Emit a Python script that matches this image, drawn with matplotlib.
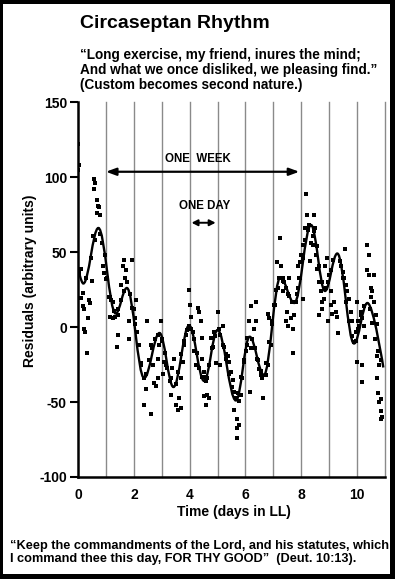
import matplotlib
matplotlib.use("Agg")
import matplotlib.pyplot as plt
from matplotlib.patches import Rectangle, PathPatch
from matplotlib.path import Path

plt.rcParams["font.family"] = ["Liberation Sans", "DejaVu Sans"]
plt.rcParams["font.weight"] = "bold"
plt.rcParams["axes.unicode_minus"] = False

# smoothed curve: peaks and troughs (day, residual)
curve_days = [0.0, 0.19, 0.73, 1.35, 1.75, 2.37, 2.92, 3.42, 3.98, 4.52, 5.0,
              5.66, 6.15, 6.66, 7.25, 7.75, 8.35, 8.85, 9.29, 9.89, 10.37, 10.94]
curve_vals = [39, 29, 66, 9, 26, -34, -4, -40, 1, -36, -2,
              -49, -6.5, -32, 33, 16, 68, 24, 49, -11, 16, -27]

# raw residuals (dots)
dot_days = [
    0.0, 0.03, 0.0, 0.1, 0.17, 0.1, 0.19, 0.23, 0.38, 0.43, 0.35, 0.23, 0.26, 0.31,
    0.5, 0.52, 0.58, 0.62, 0.58, 0.67, 0.7, 0.76, 0.79, 0.67, 0.86, 0.88, 0.94,
    1.02, 1.12, 1.18, 1.24, 1.14, 1.26, 1.33, 1.45, 1.42, 1.38, 1.54, 1.6, 1.66,
    1.69, 1.77, 1.71, 1.95, 1.81, 1.83, 2.0, 2.07, 2.05, 2.13, 2.19, 2.25, 2.37,
    2.43, 2.37, 2.6, 2.48, 2.6, 2.67, 2.74, 2.8, 2.85, 2.85, 2.9, 2.96, 3.02,
    3.08, 3.14, 3.05, 3.32, 3.38, 3.44, 3.32, 3.5, 3.6,
    3.63, 3.69, 3.69, 3.75, 3.81, 3.87, 3.99, 4.02, 4.05, 3.99, 4.11, 4.17, 4.23,
    4.29, 4.35, 4.4, 4.43, 4.46, 4.52, 4.58, 4.52, 4.64, 4.7, 4.58, 4.64, 4.76,
    4.82, 4.88, 5.0, 5.06, 4.94, 5.1, 5.18, 5.24, 5.3, 5.36, 5.42, 5.48, 5.54,
    5.6, 5.65, 5.6, 5.71, 5.69, 5.77, 5.71, 5.77, 5.83, 5.89, 5.95, 6.01, 6.07,
    6.13, 6.19, 6.17, 6.21, 6.31, 6.37, 6.37, 6.43, 6.49, 6.55, 6.61, 6.64, 6.73,
    6.79, 6.85, 6.8, 6.9, 6.96, 7.02, 7.08, 7.12, 7.2, 7.24,
    7.27, 7.33, 7.39, 7.45, 7.33, 7.51, 7.57, 7.48, 7.45, 7.51, 7.63, 7.69, 7.75,
    7.71, 7.81, 7.87, 7.93, 7.9, 7.95, 7.99, 8.05, 8.07, 8.14, 8.17, 8.19, 8.23,
    8.29, 8.31, 8.35, 8.41, 8.46, 8.5, 8.43, 8.52, 8.58, 8.64, 8.7, 8.62, 8.73,
    8.76, 8.82, 8.88, 8.86, 8.93, 8.99, 8.97, 9.05, 9.08, 9.1, 9.17, 9.23, 9.29,
    9.33, 9.42, 9.48, 9.54, 9.57, 9.6, 9.65, 9.71, 9.77, 9.83, 9.89, 9.95, 10.01,
    10.05, 10.07, 10.13, 10.19, 10.25, 10.28, 10.01, 10.16, 10.19, 10.37, 10.43,
    10.37, 10.43, 10.61, 10.49, 10.55, 10.49, 10.61, 10.67, 10.73, 10.73, 10.79,
    10.73, 10.76, 10.85, 10.79, 10.85, 10.9, 10.85,
    0.05, 0.3, 0.45, 0.6, 0.8, 0.95, 1.05, 1.15, 1.3, 1.45, 1.55, 1.65, 1.85,
    1.95, 2.05, 2.15, 2.25, 2.45, 2.55, 2.65, 2.75, 2.85, 3.0, 3.1, 3.2, 3.3,
    3.5, 3.6, 3.7, 3.8, 3.9, 4.05, 4.15, 4.25, 4.35, 4.45, 4.6, 4.7, 4.8, 4.9,
    5.1, 5.2, 5.3, 5.4, 5.5, 5.75, 5.85, 5.95, 6.05, 6.25, 6.35, 6.45, 6.55,
    6.75, 6.85, 6.95, 7.05, 7.15, 7.35, 7.45, 7.55, 7.65, 7.85, 7.95, 8.05,
    8.15, 8.25, 8.45, 8.55, 8.65, 8.75, 8.95, 9.05, 9.15, 9.4, 9.5, 9.6, 9.7,
    9.8, 9.95, 10.05, 10.15, 10.25, 10.45, 10.55, 10.65, 10.75, 10.85,
]
dot_vals = [
    122, 108, 105, 39, 22.6, 19.5, 14, 12, 18, 16, 6, -1, -3, -17,
    31, 61, 99, 96, 92, 85, 81, 80, 75, 76, 56, 41, 36,
    32, 20, 18, 17, 7, 6, 7, 8, -5, -13, 28, 41, 45,
    33, 30, 38, 45, 4, -8, 12, 18, 6, -3, -12, -25, -34,
    -41, -52, -58, 4, -12, -25, -37, -39, -34, -21, -12, 4, -9,
    -23, -25, -31, -34, -27, -21, -45, -52, -55,
    -47.6, -54, -34, -23, -12, -5, 25, 15, 7, 1, -3, -16, -25,
    13, 10, 4, -7, -21, -30, -36, -46, -45, -47, -52, -34, -7.5,
    -13, -3, 10, -1, -24, -25, 1, -13, -18, -19, -23, -30, -35,
    -43, -47, -55, -61, -67.6, -65, -74, -49, -45, -34, -23, -16, -7.5,
    4, -14, -43, 14, -1, 17, 4, -21, -28, -32, -34, -47.6, -32,
    9, 6, -25, -12, 4, 15, 25, 43.6, 32.4, 59.5,
    41, 33, 30, 26, 24, 22, 33, 10, 4, 1, 6, -1, 8,
    -17, 17, 26, 33, 41, 43.6, 48, 19, 55, 66, 89, 75, 65,
    68, 44, 56, 61, 75, 66, 55, 48, 39, 30, 24, 8, 17,
    12, 19, 26, 41, 46, 35, 4, 24, 15, 9, 17, 10, 7,
    -4, 41, 37, 33, 52, 28, 24, 19, 10, 4, -10, -3, 17,
    4, 1, 10, 6, 1, -6.5, -23, -25, -36.4, 54.7, 47.8,
    37.8, 35, 35, 26, 24, 20, 17, 8, 2, -19, -25,
    -34, -44, -48, -50, -56, -60, -61,
    36, 33, 46, 58, 62, 48, 33, 20, 11, 12, 18, 24, 22,
    13, 2, -12, -24, -31, -22, -14, -8, -5, -8, -17, -27, -36,
    -38, -30, -18, -9, -2, -1, -8, -17, -27, -33, -33, -25, -14, -6,
    -5, -12, -21, -31, -40, -44, -33, -22, -12, -8, -14, -22, -29,
    -24, -10, 2, 15, 26, 31, 26, 21, 17, 22, 33, 46,
    58, 66, 64, 54, 41, 30, 30, 38, 45, 44, 33, 17, 4,
    -6, -9, -1, 8, 14, 12, 3, -8, -16, -22,
]

day_lines = [1, 2, 3, 4, 5, 6, 7, 8, 9, 10, 11]
x_ticks = [0, 2, 4, 6, 8, 10]
y_ticks = [-100, -50, 0, 50, 100, 150]

W, H = 395, 579
fig = plt.figure(figsize=(W / 100, H / 100), dpi=100, facecolor="black")
fig.patches.append(Rectangle((3 / W, 5 / H), 387 / W, 570 / H, transform=fig.transFigure,
                             facecolor="white", edgecolor="none", zorder=-10))

ax = fig.add_axes([78 / W, 102 / H, 307 / W, 375 / H])
ax.set_facecolor("none")
ax.set_xlim(0, 11)
ax.set_ylim(-100, 150)

for d in day_lines:
    ax.axvline(d, color="#8a8a8a", lw=1.0, zorder=1, clip_on=False)

ax.scatter(dot_days, dot_vals, s=5, marker="s", color="black", linewidths=0, zorder=3)

# smooth curve through the extremes
k = 0.37
verts = [(curve_days[0], curve_vals[0])]
codes = [Path.MOVETO]
for i in range(1, len(curve_days)):
    x0, y0 = curve_days[i - 1], curve_vals[i - 1]
    x1, y1 = curve_days[i], curve_vals[i]
    dx = x1 - x0
    c1 = (x0, y0) if i == 1 else (x0 + k * dx, y0)
    c2 = (x1, y1) if i == len(curve_days) - 1 else (x1 - k * dx, y1)
    verts += [c1, c2, (x1, y1)]
    codes += [Path.CURVE4] * 3
ax.add_patch(PathPatch(Path(verts, codes), fill=False, edgecolor="black", lw=1.7, zorder=4))

for s in ["top", "right"]:
    ax.spines[s].set_visible(False)
for s in ["left", "bottom"]:
    ax.spines[s].set_linewidth(1.8)

ax.set_xticks(x_ticks)
ax.set_yticks(y_ticks)
ax.tick_params(axis="x", length=0, pad=8, labelsize=10)
ax.tick_params(axis="y", length=6, width=1.5, pad=2, labelsize=10)

# arrows
week_kw = dict(arrowstyle="<|-|>,head_length=0.6,head_width=0.22", color="black",
               lw=1.6, shrinkA=0, shrinkB=0)
day_kw = dict(arrowstyle="<|-|>,head_length=0.35,head_width=0.18", color="black",
              lw=1.4, shrinkA=0, shrinkB=0)
ax.annotate("", xy=(1.0, 103.5), xytext=(7.93, 103.5), arrowprops=week_kw)
ax.annotate("", xy=(4.07, 69.5), xytext=(4.93, 69.5), arrowprops=day_kw)
ax.text(4.29, 112, "ONE  WEEK", ha="center", va="center", fontsize=8.3)
ax.text(4.55, 81, "ONE DAY", ha="center", va="center", fontsize=8.3)

fig.text(30 / W, 1 - 280.5 / H, "Residuals (arbitrary units)", rotation=90,
         ha="center", va="center", fontsize=10)
fig.text(233.5 / W, 1 - 512 / H, "Time (days in LL)", ha="center", va="center", fontsize=10)

fig.text(80 / W, 1 - 28 / H, "Circaseptan Rhythm", fontsize=14, va="baseline")
quote = ["\u201cLong exercise, my friend, inures the mind;",
         "And what we once disliked, we pleasing find.\u201d",
         "(Custom becomes second nature.)"]
for i, line in enumerate(quote):
    fig.text(80 / W, 1 - (59 + i * 15) / H, line, fontsize=9.8, va="baseline")

bottom = ["\u201cKeep the commandments of the Lord, and his statutes, which",
          "I command thee this day, FOR THY GOOD\u201d  (Deut. 10:13)."]
for i, line in enumerate(bottom):
    fig.text(10 / W, 1 - (549 + i * 13) / H, line, fontsize=9.2, va="baseline")

fig.savefig("out.png", dpi=100, facecolor=fig.get_facecolor())
